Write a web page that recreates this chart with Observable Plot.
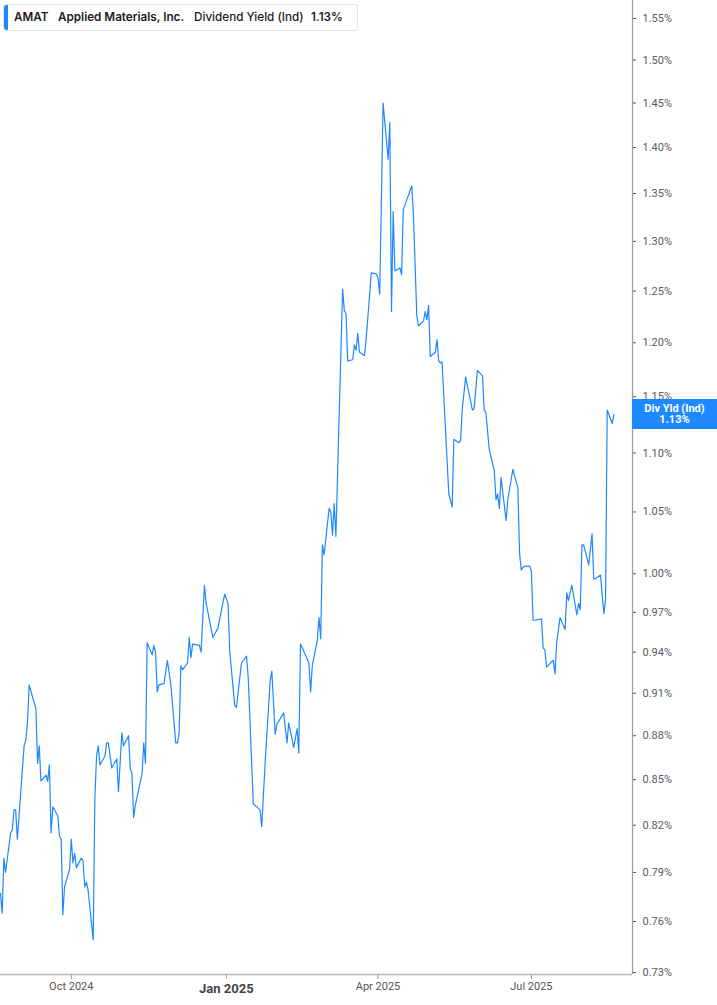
<!DOCTYPE html>
<html><head><meta charset="utf-8">
<script src="https://cdn.jsdelivr.net/npm/d3@7"></script>
<script src="https://cdn.jsdelivr.net/npm/@observablehq/plot@0.6"></script>
<style>
body{margin:0;background:#fff}
#wrap{position:relative;width:717px;height:1005px;overflow:hidden;background:#fff}
#legend{position:absolute;left:3px;top:4px;width:353px;height:25px;border:1px solid #e4e4e4;border-radius:3px;background:#fff;font-family:Inter,"Noto Sans",sans-serif;font-size:11.7px;font-weight:600;color:#1b1b1b}
#legend .bar{position:absolute;left:0;top:0;width:4px;height:25px;background:#1e88ff;border-radius:3px 0 0 3px}
#legend span{position:absolute;top:5px;white-space:nowrap}
#tag{position:absolute;left:632px;width:85px;height:30px;background:#1e88ff;color:#fff;font-family:Roboto,sans-serif;font-size:11px;font-weight:700;text-align:center;line-height:11px;box-sizing:border-box;padding-top:4px}
</style></head><body><div id="wrap"></div><script>
const dates = [
"2024-08-20","2024-08-21","2024-08-22","2024-08-23","2024-08-26","2024-08-27","2024-08-28","2024-08-29","2024-08-30",
"2024-09-03","2024-09-04","2024-09-05","2024-09-06","2024-09-10","2024-09-11","2024-09-12","2024-09-13","2024-09-16",
"2024-09-17","2024-09-18","2024-09-19","2024-09-20","2024-09-23","2024-09-24","2024-09-25","2024-09-26","2024-09-27",
"2024-09-30","2024-10-01","2024-10-02","2024-10-03","2024-10-04","2024-10-07","2024-10-08","2024-10-09","2024-10-10",
"2024-10-11","2024-10-14","2024-10-15","2024-10-16","2024-10-17","2024-10-18","2024-10-21","2024-10-22","2024-10-23",
"2024-10-25","2024-10-28","2024-10-29","2024-10-31","2024-11-01","2024-11-04","2024-11-05","2024-11-06","2024-11-07",
"2024-11-08","2024-11-12","2024-11-13","2024-11-14","2024-11-15","2024-11-18","2024-11-19","2024-11-20","2024-11-21",
"2024-11-22","2024-11-25","2024-11-27","2024-11-29","2024-12-02","2024-12-03","2024-12-04","2024-12-05","2024-12-06",
"2024-12-09","2024-12-10","2024-12-11","2024-12-12","2024-12-16","2024-12-17","2024-12-19","2024-12-20","2024-12-24",
"2024-12-27","2024-12-31","2025-01-02","2025-01-03","2025-01-06","2025-01-07","2025-01-10","2025-01-13","2025-01-14",
"2025-01-17","2025-01-21","2025-01-22","2025-01-24","2025-01-27","2025-01-28","2025-01-30","2025-01-31","2025-02-04",
"2025-02-06","2025-02-07","2025-02-10","2025-02-12","2025-02-13","2025-02-14","2025-02-18","2025-02-19","2025-02-20",
"2025-02-21","2025-02-24","2025-02-25","2025-02-26","2025-02-27","2025-02-28","2025-03-03","2025-03-04","2025-03-05",
"2025-03-06","2025-03-07","2025-03-11","2025-03-12","2025-03-13","2025-03-14","2025-03-17","2025-03-18","2025-03-19",
"2025-03-20","2025-03-21","2025-03-24","2025-03-25","2025-03-28","2025-03-31","2025-04-01","2025-04-02","2025-04-03",
"2025-04-04","2025-04-07","2025-04-08","2025-04-09","2025-04-10","2025-04-11","2025-04-14","2025-04-15","2025-04-16",
"2025-04-21","2025-04-22","2025-04-24","2025-04-25","2025-04-28","2025-04-29","2025-04-30","2025-05-01","2025-05-02",
"2025-05-05","2025-05-06","2025-05-07","2025-05-08","2025-05-09","2025-05-13","2025-05-15","2025-05-16","2025-05-19",
"2025-05-20","2025-05-21","2025-05-23","2025-05-27","2025-05-28","2025-05-30","2025-06-02","2025-06-03","2025-06-04",
"2025-06-06","2025-06-09","2025-06-10","2025-06-11","2025-06-12","2025-06-13","2025-06-16","2025-06-17","2025-06-20",
"2025-06-23","2025-06-24","2025-06-25","2025-06-26","2025-06-27","2025-06-30","2025-07-01","2025-07-02","2025-07-03",
"2025-07-07","2025-07-08","2025-07-09","2025-07-10","2025-07-14","2025-07-15","2025-07-16","2025-07-18","2025-07-21",
"2025-07-22","2025-07-23","2025-07-25","2025-07-28","2025-07-29","2025-07-30","2025-07-31","2025-08-01","2025-08-04",
"2025-08-06","2025-08-07","2025-08-08","2025-08-11","2025-08-13","2025-08-14","2025-08-15","2025-08-18","2025-08-19"
];
const yields = [
0.777,0.765,0.799,0.790,0.815,0.817,0.830,0.830,0.811,
0.873,0.877,0.889,0.916,0.899,0.861,0.873,0.849,0.853,
0.849,0.860,0.815,0.832,0.826,0.813,0.811,0.764,0.781,
0.792,0.811,0.796,0.802,0.793,0.799,0.797,0.781,0.784,
0.779,0.749,0.838,0.866,0.873,0.860,0.866,0.875,0.875,
0.858,0.864,0.842,0.882,0.873,0.880,0.858,0.854,0.825,
0.833,0.854,0.875,0.861,0.947,0.938,0.945,0.940,0.911,
0.916,0.917,0.934,0.917,0.875,0.875,0.882,0.930,0.927,
0.932,0.951,0.936,0.946,0.945,0.940,0.991,0.977,0.951,
0.958,0.984,0.977,0.941,0.901,0.900,0.932,0.937,0.921,
0.834,0.830,0.819,0.861,0.919,0.926,0.881,0.888,0.896,
0.875,0.889,0.872,0.885,0.868,0.946,0.935,0.932,0.911,
0.930,0.949,0.966,0.950,1.023,1.015,1.053,1.050,1.031,
1.057,1.030,1.252,1.231,1.228,1.183,1.184,1.198,1.193,
1.209,1.191,1.188,1.204,1.268,1.267,1.263,1.247,1.343,
1.450,1.387,1.428,1.230,1.331,1.270,1.273,1.266,1.333,
1.358,1.329,1.226,1.216,1.221,1.230,1.222,1.236,1.187,
1.191,1.203,1.183,1.181,1.182,1.065,1.054,1.112,1.109,
1.111,1.139,1.168,1.138,1.139,1.174,1.169,1.138,1.136,
1.103,1.085,1.060,1.065,1.053,1.079,1.043,1.060,1.086,
1.070,1.016,1.003,1.005,1.006,1.006,1.002,0.964,0.964,
0.965,0.943,0.942,0.929,0.934,0.924,0.947,0.966,0.957,
0.985,0.979,0.991,0.968,0.977,0.972,1.023,1.023,1.007,
1.032,0.996,0.996,0.999,0.969,0.979,1.138,1.126,1.134
];
const yTicks = [0.73,0.76,0.79,0.82,0.85,0.88,0.91,0.94,0.97,1.00,1.05,1.10,1.15,1.20,1.25,1.30,1.35,1.40,1.45,1.50,1.55];
const xTickDates = ["2024-10-01","2025-04-01","2025-07-01"];
const xTickLabels = ["Oct 2024","Apr 2025","Jul 2025"];
const xYearDates = ["2025-01-01"];
const xYearLabels = ["Jan 2025"];
const xDomain = ["2024-08-20","2025-08-30"];
const yDomain = [0.72885, 1.5722];
const ticker = "AMAT", company = "Applied Materials, Inc.", metric = "Dividend Yield (Ind)", shortMetric = "Div Yld (Ind)";

const data = dates.map((d, i) => ({date: new Date(d), value: yields[i]}));
const fmt = v => v.toFixed(2) + "%";
const last = data[data.length - 1];
const lineColor = "#1e88ff";

const chart = Plot.plot({
  width: 717, height: 1005,
  marginLeft: 0, marginRight: 85, marginTop: 0, marginBottom: 31,
  style: {fontFamily: "Roboto, sans-serif", background: "transparent", overflow: "visible"},
  x: {type: "utc", domain: xDomain.map(d => new Date(d)), axis: null},
  y: {type: "log", domain: yDomain, axis: null},
  marks: [
    Plot.axisY({anchor: "right", label: null, ticks: yTicks, tickFormat: fmt, tickSize: 3, tickPadding: 7, fontSize: 11, color: "#5c5c5c", stroke: "#555"}),
    Plot.ruleY([yDomain[0]], {stroke: "#b8b8b8", strokeWidth: 1.5}),
    Plot.ruleX([new Date(xDomain[1])], {stroke: "#9a9a9a", strokeWidth: 1.2}),
    Plot.axisX({anchor: "bottom", label: null, ticks: xTickDates.concat(xYearDates).map(d => new Date(d)), tickSize: 5, tickFormat: () => "", stroke: "#9a9a9a"}),
    Plot.text(xTickDates.map((d, i) => ({d: new Date(d), t: xTickLabels[i]})), {x: "d", text: "t", frameAnchor: "bottom", dy: 15, fontSize: 11, fill: "#555"}),
    Plot.text(xYearDates.map((d, i) => ({d: new Date(d), t: xYearLabels[i]})), {x: "d", text: "t", frameAnchor: "bottom", dy: 18, fontSize: 13, fontWeight: "bold", fill: "#444"}),
    Plot.line(data, {x: "date", y: "value", stroke: lineColor, strokeWidth: 1.2})
  ]
});

const wrap = document.getElementById("wrap");
wrap.appendChild(chart);

const ys = chart.scale("y");

const legend = document.createElement("div");
legend.id = "legend";
legend.innerHTML = `<div class="bar"></div><span style="left:10px">${ticker}</span><span style="left:54px">${company}</span><span style="left:190px;font-weight:500">${metric}</span><span style="left:307px">${fmt(last.value)}</span>`;
wrap.appendChild(legend);

const tag = document.createElement("div");
tag.id = "tag";
const ty = ys.apply(last.value);
tag.style.top = (ty - 15) + "px";
tag.innerHTML = `${shortMetric}<br>${fmt(last.value)}`;
wrap.appendChild(tag);
</script></body></html>
